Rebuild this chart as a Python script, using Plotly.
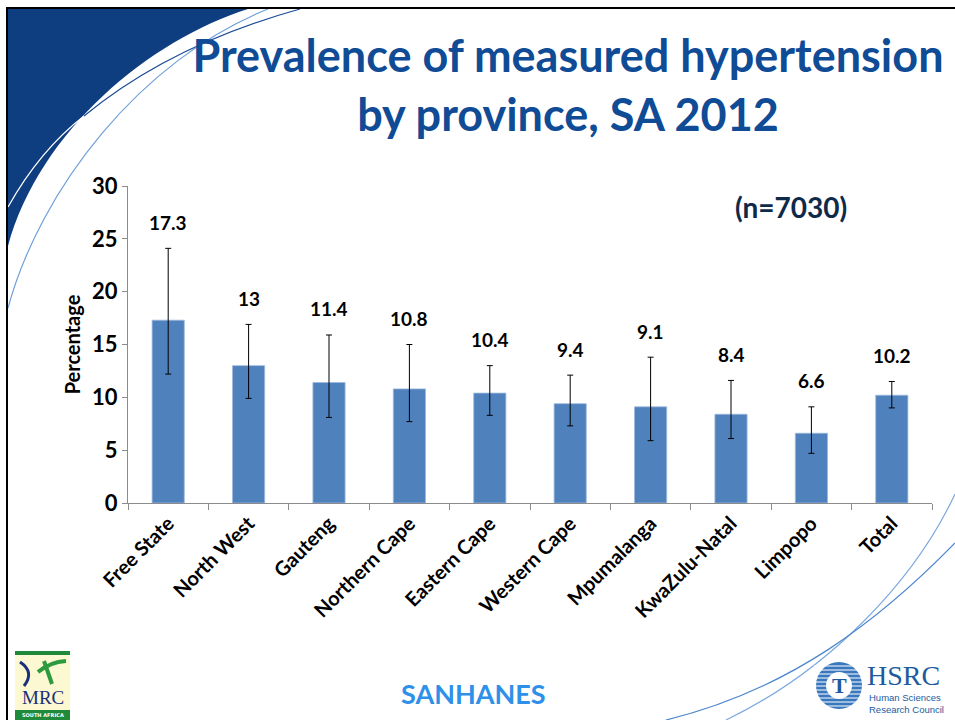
import plotly.graph_objects as go

# ---------------- data ----------------
provinces = ["Free State", "North West", "Gauteng", "Northern Cape", "Eastern Cape",
             "Western Cape", "Mpumalanga", "KwaZulu-Natal", "Limpopo", "Total"]
prevalence = [17.3, 13, 11.4, 10.8, 10.4, 9.4, 9.1, 8.4, 6.6, 10.2]
ci_upper = [24.1, 16.9, 15.9, 15.0, 13.0, 12.1, 13.8, 11.6, 9.1, 11.5]
ci_lower = [12.2, 9.9, 8.1, 7.7, 8.3, 7.3, 5.9, 6.1, 4.7, 9.0]
y_ticks = [0, 5, 10, 15, 20, 25, 30]
sample_note = "(n=7030)"

# ---------------- layout geometry (pixels) ----------------
W, H = 955, 720
L, R, T, B = 128, 932, 186, 503


def px(x):
    return (x - L) / (R - L)


def py(y):
    return (B - y) / (B - T)


def pt(x, y):
    return f"{px(x):.5f},{py(y):.5f}"


FONT = "Lato"
BAR_COLOR = "#4F81BD"
TITLE_COLOR = "#104B96"

fig = go.Figure()
fig.add_trace(go.Bar(
    x=provinces,
    y=prevalence,
    width=0.4,
    marker=dict(color=BAR_COLOR, line=dict(color="#9DB9DD", width=0.8)),
    error_y=dict(
        type="data",
        symmetric=False,
        array=[u - v for u, v in zip(ci_upper, prevalence)],
        arrayminus=[v - l for v, l in zip(prevalence, ci_lower)],
        color="#000000",
        thickness=1,
        width=3,
    ),
    hoverinfo="x+y",
    showlegend=False,
))

annotations = []
for cat, val, up in zip(provinces, prevalence, ci_upper):
    annotations.append(dict(
        x=cat, y=up, xref="x", yref="y", text=f"<b>{val:g}</b>",
        showarrow=False, yshift=26, yanchor="middle",
        font=dict(family=FONT, size=19, color="#000000"),
    ))

annotations.append(dict(
    x=px(791), y=py(207), xref="paper", yref="paper", text=f"<b>{sample_note}</b>",
    showarrow=False, xanchor="center", yanchor="middle",
    font=dict(family=FONT, size=28, color="#0F2A48"),
))
annotations.append(dict(
    x=px(473), y=py(693), xref="paper", yref="paper", text="<b>SANHANES</b>",
    showarrow=False, xanchor="center", yanchor="middle",
    font=dict(family=FONT, size=27, color="#2E90E8"),
))
# MRC logo text
annotations.append(dict(
    x=px(42.5), y=py(697), xref="paper", yref="paper", text="MRC",
    showarrow=False, xanchor="center", yanchor="middle",
    font=dict(family="Liberation Serif", size=19, color="#1C2F7A"),
))
annotations.append(dict(
    x=px(42.5), y=py(715), xref="paper", yref="paper", text="<b>SOUTH AFRICA</b>",
    showarrow=False, xanchor="center", yanchor="middle",
    font=dict(family="DejaVu Sans", size=5, color="#FFFFFF"),
))
# HSRC logo text
annotations.append(dict(
    x=px(865), y=py(675), xref="paper", yref="paper", text="HSRC",
    showarrow=False, xanchor="left", yanchor="middle",
    font=dict(family="Liberation Serif", size=28, color="#1D5B9E"),
))
annotations.append(dict(
    x=px(867), y=py(703), xref="paper", yref="paper",
    text="Human Sciences<br>Research Council", align="left",
    showarrow=False, xanchor="left", yanchor="middle",
    font=dict(family="Liberation Sans", size=9.5, color="#1D5B9E"),
))
annotations.append(dict(
    x=px(839), y=py(685), xref="paper", yref="paper", text="<b>T</b>",
    showarrow=False, xanchor="center", yanchor="middle",
    font=dict(family="Liberation Serif", size=22, color="#1D5B9E"),
))

shapes = []
# top-left dark blue corner
shapes.append(dict(
    type="path", xref="paper", yref="paper", layer="below",
    path=f"M {pt(8, 9)} L {pt(248, 9)} C {pt(150, 40)} {pt(40, 130)} {pt(8, 246)} Z",
    fillcolor="#0E3D80", line=dict(width=0),
))
# white line inside corner
shapes.append(dict(
    type="path", xref="paper", yref="paper", layer="below",
    path=f"M {pt(8, 207)} Q {pt(40, 150)} {pt(84, 116)}",
    line=dict(color="#FFFFFF", width=1.2),
))
# dark blue thin line continuing
shapes.append(dict(
    type="path", xref="paper", yref="paper", layer="below",
    path=f"M {pt(84, 116)} Q {pt(170, 45)} {pt(300, 9)}",
    line=dict(color="#1A4C95", width=1.2),
))
# light blue arc near corner
shapes.append(dict(
    type="path", xref="paper", yref="paper", layer="below",
    path=f"M {pt(8, 308)} C {pt(40, 190)} {pt(140, 60)} {pt(268, 9)}",
    line=dict(color="#6E9FD8", width=1.2),
))
# bottom-right arcs
shapes.append(dict(
    type="path", xref="paper", yref="paper", layer="below",
    path=f"M {pt(955, 494)} C {pt(915, 580)} {pt(830, 670)} {pt(726, 720)}",
    line=dict(color="#7EAAE0", width=1.2),
))
shapes.append(dict(
    type="path", xref="paper", yref="paper", layer="below",
    path=f"M {pt(955, 543)} C {pt(880, 620)} {pt(790, 690)} {pt(666, 720)}",
    line=dict(color="#4C86CC", width=1.2),
))
# slide frame (top and left black lines)
shapes.append(dict(type="line", xref="paper", yref="paper", layer="above",
                   x0=px(7), y0=py(8), x1=px(955), y1=py(8),
                   line=dict(color="#000000", width=2)))
shapes.append(dict(type="line", xref="paper", yref="paper", layer="above",
                   x0=px(7), y0=py(7), x1=px(7), y1=py(720),
                   line=dict(color="#000000", width=2)))
# MRC logo blocks
shapes.append(dict(type="rect", xref="paper", yref="paper", layer="below",
                   x0=px(15), y0=py(651), x1=px(70), y1=py(720),
                   fillcolor="#FBF8D2", line=dict(width=0)))
shapes.append(dict(type="rect", xref="paper", yref="paper", layer="below",
                   x0=px(15), y0=py(651), x1=px(70), y1=py(655),
                   fillcolor="#1E8A3A", line=dict(width=0)))
shapes.append(dict(type="rect", xref="paper", yref="paper", layer="below",
                   x0=px(15), y0=py(710), x1=px(70), y1=py(720),
                   fillcolor="#1E8A3A", line=dict(width=0)))
shapes.append(dict(type="path", xref="paper", yref="paper", layer="below",
                   path=f"M {pt(20, 662)} Q {pt(35, 672)} {pt(24, 686)}",
                   line=dict(color="#1C2F7A", width=3)))
shapes.append(dict(type="path", xref="paper", yref="paper", layer="below",
                   path=f"M {pt(38, 672)} Q {pt(50, 662)} {pt(66, 661)}",
                   line=dict(color="#2E9A3E", width=4)))
shapes.append(dict(type="path", xref="paper", yref="paper", layer="below",
                   path=f"M {pt(44, 661)} L {pt(52, 684)}",
                   line=dict(color="#2E9A3E", width=4)))
# HSRC circle
shapes.append(dict(type="circle", xref="paper", yref="paper", layer="below",
                   x0=px(816), y0=py(662), x1=px(862), y1=py(709),
                   fillcolor="#3A78BE", line=dict(width=0)))
shapes.append(dict(type="circle", xref="paper", yref="paper", layer="below",
                   x0=px(826), y0=py(672), x1=px(852), y1=py(699),
                   fillcolor="#FFFFFF", line=dict(width=0)))
for yy in range(666, 708, 4):
    shapes.append(dict(type="line", xref="paper", yref="paper", layer="below",
                       x0=px(814), y0=py(yy), x1=px(864), y1=py(yy),
                       line=dict(color="#FFFFFF", width=1)))

fig.update_layout(
    width=W, height=H,
    margin=dict(l=L, r=W - R, t=T, b=H - B, autoexpand=False),
    paper_bgcolor="#FFFFFF",
    plot_bgcolor="rgba(0,0,0,0)",
    title=dict(
        text="<b>Prevalence of measured hypertension<br>by province, SA 2012</b>",
        x=px(568), xanchor="center", xref="paper",
        y=1 - 72 / H, yanchor="middle", yref="container",
        font=dict(family=FONT, size=45, color=TITLE_COLOR),
    ),
    bargap=0.6,
    xaxis=dict(
        type="category",
        showline=True, linecolor="#8C8C8C", linewidth=1,
        ticks="outside", tickson="boundaries", ticklen=6, tickcolor="#8C8C8C",
        tickangle=-45,
        tickfont=dict(family=FONT, size=20, color="#000000", weight="bold"),
        showgrid=False, zeroline=False,
    ),
    yaxis=dict(
        range=[0, 30],
        tickvals=y_ticks,
        showline=True, linecolor="#8C8C8C", linewidth=1,
        ticks="outside", ticklen=5, tickcolor="#8C8C8C",
        tickfont=dict(family=FONT, size=22, color="#000000", weight="bold"),
        title=dict(text="<b>Percentage</b>", standoff=6,
                   font=dict(family=FONT, size=20, color="#000000")),
        showgrid=False, zeroline=False,
    ),
    annotations=annotations,
    shapes=shapes,
)

fig.write_html("out.html", config={"displayModeBar": False},
               post_script="document.body.style.margin='0px';")
